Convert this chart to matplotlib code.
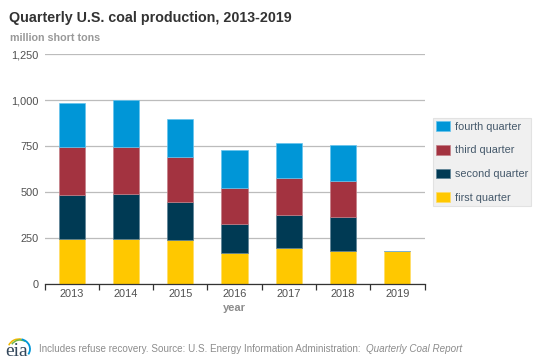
import matplotlib
matplotlib.use('Agg')
import matplotlib.pyplot as plt
import numpy as np
from matplotlib.patches import Arc

# Values (million short tons)
years = ['2013', '2014', '2015', '2016', '2017', '2018', '2019']
first_q = [242, 245, 238, 169, 193, 182, 177]
second_q = [242, 242, 210, 159, 184, 182, 0]
third_q = [258, 255, 242, 195, 198, 196, 0]
fourth_q = [239, 258, 205, 205, 194, 193, 0]
yticks = [0, 250, 500, 750, 1000, 1250]

plt.rcParams['font.family'] = ['Liberation Sans', 'DejaVu Sans']

W, H = 540, 360
fig = plt.figure(figsize=(5.4, 3.6), dpi=100)
ax = fig.add_axes([44.5 / W, 1 - 284 / H, 380 / W, 230 / H])

x_pos = np.arange(len(years))
series = [
    ('first quarter', first_q, '#ffc800', '#ffdc66'),
    ('second quarter', second_q, '#003a54', '#5d8295'),
    ('third quarter', third_q, '#a33340', '#c47f88'),
    ('fourth quarter', fourth_q, '#0096d7', '#66c4ee'),
]
bottom = np.zeros(len(years))
for name, vals, col, edge in series:
    ax.bar(x_pos, vals, width=0.48, bottom=bottom, color=col, edgecolor=edge,
           linewidth=0.5, label=name, zorder=3)
    bottom += np.array(vals)

ax.set_xlim(-0.5, 6.5)
ax.set_ylim(0, 1250)
ax.set_yticks(yticks)
ax.set_yticklabels([f'{v:,}' for v in yticks], fontsize=7.9, color='#505050')
ax.set_xticks(x_pos)
ax.set_xticklabels(years, fontsize=7.9, color='#505050')
ax.set_xticks(np.arange(-0.5, 7, 1), minor=True)
ax.tick_params(axis='x', which='major', length=0, pad=3.5)
ax.tick_params(axis='x', which='minor', length=4.5, width=0.9, color='#333333', direction='out')
ax.tick_params(axis='y', length=0, pad=4)
ax.grid(axis='y', color='#bcbcbc', linewidth=0.9, zorder=0)
ax.set_axisbelow(True)
for s in ['top', 'right', 'left']:
    ax.spines[s].set_visible(False)
ax.spines['bottom'].set_color('#333333')
ax.spines['bottom'].set_linewidth(0.9)
ax.spines['bottom'].set_zorder(5)

fig.text(9 / W, 1 - 18 / H, 'Quarterly U.S. coal production, 2013-2019', fontsize=10.3,
         fontweight='bold', color='#333333', va='center')
fig.text(10 / W, 1 - 38 / H, 'million short tons', fontsize=7.75, fontweight='bold',
         color='#999999', va='center')
fig.text(234 / W, 1 - 308 / H, 'year', fontsize=8, fontweight='bold', color='#8c8c8c',
         ha='center', va='center')

# Legend, top entry is the top of the stack
handles, labels = ax.get_legend_handles_labels()
leg = fig.legend(handles[::-1], labels[::-1], loc='center left', bbox_to_anchor=(433 / W, 1 - 162 / H),
                 fontsize=7.85, labelcolor='#44586a', facecolor='#f0f0f0', edgecolor='#e2e2e2',
                 fancybox=False, framealpha=1, borderpad=0.27, labelspacing=1.2,
                 handlelength=1.25, handleheight=1.02, handletextpad=0.5, borderaxespad=0)
leg.get_frame().set_linewidth(0.8)

# Source line
fig.text(39 / W, 1 - 349 / H, 'Includes refuse recovery. Source: U.S. Energy Information Administration:',
         fontsize=7.15, color='#8c8c8c', va='center')
fig.text(366 / W, 1 - 349 / H, 'Quarterly Coal Report', fontsize=7.1, color='#8c8c8c',
         style='italic', va='center')

# EIA logo
fig.text(17 / W, 1 - 351 / H, 'eia', fontsize=14, family='Liberation Serif', color='#33475b',
         ha='center', va='center')
logo = fig.add_axes([0, 0, 1, 1], facecolor='none')
logo.set_xlim(0, W)
logo.set_ylim(H, 0)
logo.axis('off')
logo.add_patch(Arc((19, 349), 22, 20, theta1=200, theta2=285, color='#f2b800', lw=1.1))
logo.add_patch(Arc((20, 350), 20, 20, theta1=215, theta2=300, color='#74b843', lw=1.1))
logo.add_patch(Arc((19, 349), 22, 20, theta1=285, theta2=30, color='#0096d7', lw=1.3))

fig.savefig('out.png', dpi=100)
